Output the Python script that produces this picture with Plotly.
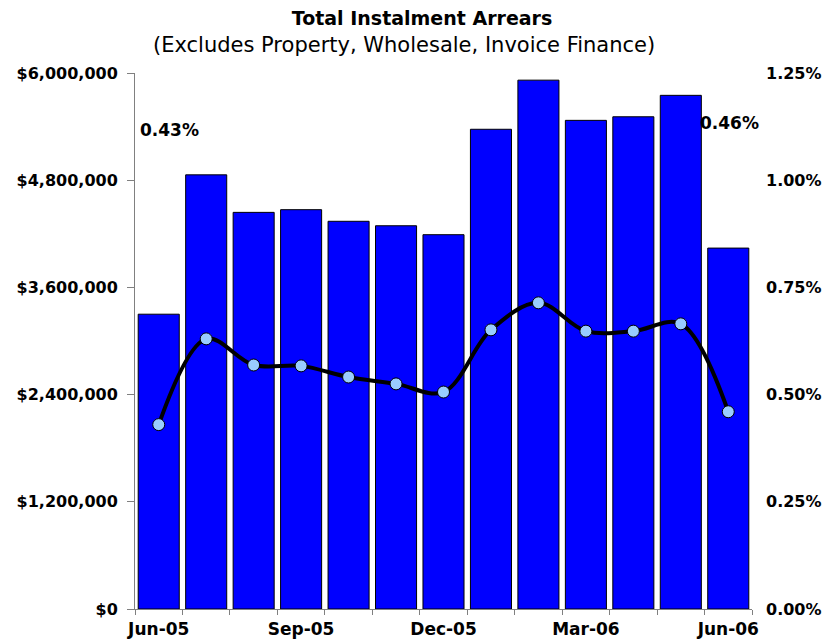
import plotly.graph_objects as go

categories = ["Jun-05", "Jul-05", "Aug-05", "Sep-05", "Oct-05", "Nov-05", "Dec-05",
              "Jan-06", "Feb-06", "Mar-06", "Apr-06", "May-06", "Jun-06"]
arrears = [3300000, 4860000, 4440000, 4470000, 4340000, 4290000, 4190000,
           5370000, 5920000, 5470000, 5510000, 5750000, 4040000]
arrears_rate = [0.0043, 0.0063, 0.00569, 0.00567, 0.00541, 0.00525, 0.00506,
                0.00651, 0.00714, 0.00648, 0.00648, 0.00665, 0.0046]
shown_labels = ["Jun-05", "Sep-05", "Dec-05", "Mar-06", "Jun-06"]
tick_text = [c if c in shown_labels else "" for c in categories]
title_text = "Total Instalment Arrears"
subtitle_text = "(Excludes Property, Wholesale, Invoice Finance)"

FONT = "DejaVu Sans, Verdana, sans-serif"
PLOT_H = 536.0
PLOT_L, PLOT_W = 135.0, 617.0

fig = go.Figure()
fig.add_trace(go.Bar(
    x=categories, y=arrears,
    marker=dict(color="#0000FF", line=dict(color="black", width=1)),
    yaxis="y", showlegend=False, hoverinfo="x+y"))
fig.add_trace(go.Scatter(
    x=categories, y=arrears_rate, yaxis="y2", mode="lines+markers",
    line=dict(color="black", width=4, shape="spline", smoothing=1.0),
    marker=dict(color="#99CCFF", size=12, line=dict(color="black", width=1)),
    showlegend=False))

fig.add_annotation(x=categories[0], y=1 - (130 - 73) / PLOT_H, yref="paper", xshift=11,
                   yanchor="middle",
                   text=f"<b>{arrears_rate[0]*100:.2f}%</b>", showarrow=False,
                   font=dict(family=FONT, size=17, color="black"))
fig.add_annotation(x=categories[-1], y=1 - (123 - 73) / PLOT_H, yref="paper", xshift=1,
                   yanchor="middle",
                   text=f"<b>{arrears_rate[-1]*100:.2f}%</b>", showarrow=False,
                   font=dict(family=FONT, size=17, color="black"))
fig.add_annotation(x=(404 - PLOT_L) / PLOT_W, xref="paper", y=1 + (73 - 45) / PLOT_H, yref="paper",
                   yanchor="middle", xanchor="center", text=subtitle_text, showarrow=False,
                   font=dict(family=FONT, size=21, color="black"))

fig.update_layout(
    width=827, height=640,
    margin=dict(l=135, r=75, t=73, b=31, autoexpand=False),
    paper_bgcolor="white", plot_bgcolor="white",
    bargap=0.135,
    font=dict(family=FONT, size=16, color="black"),
    title=dict(
        text=f"<b>{title_text}</b>",
        x=(422 - PLOT_L) / PLOT_W, xanchor="center", xref="paper", y=1 - 18 / 640, yanchor="middle",
        font=dict(family=FONT, size=19, color="black")),
    xaxis=dict(
        type="category", tickvals=categories, ticktext=tick_text, tickangle=0,
        tickson="boundaries", ticks="outside", ticklen=5, tickcolor="#808080",
        showline=True, linecolor="#808080", linewidth=1, showgrid=False,
        ticklabelstandoff=5,
        tickfont=dict(family=FONT, size=17, color="black", weight="bold"),
        range=[-0.5, 12.5], automargin=False),
    yaxis=dict(
        range=[0, 6000000], dtick=1200000, tickformat="$,.0f",
        showline=True, linecolor="#808080", linewidth=1, ticks="outside",
        ticklen=7, tickcolor="#808080", showgrid=False, zeroline=False,
        ticklabelstandoff=6, automargin=False,
        tickfont=dict(family=FONT, size=16, color="black", weight="bold")),
    yaxis2=dict(
        overlaying="y", side="right", range=[0, 0.0125], dtick=0.0025,
        tickformat=".2%", showline=False, showgrid=False, zeroline=False,
        ticks="", ticklabelstandoff=13, automargin=False,
        tickfont=dict(family=FONT, size=16, color="black", weight="bold")),
)

fig.write_html("out.html")
